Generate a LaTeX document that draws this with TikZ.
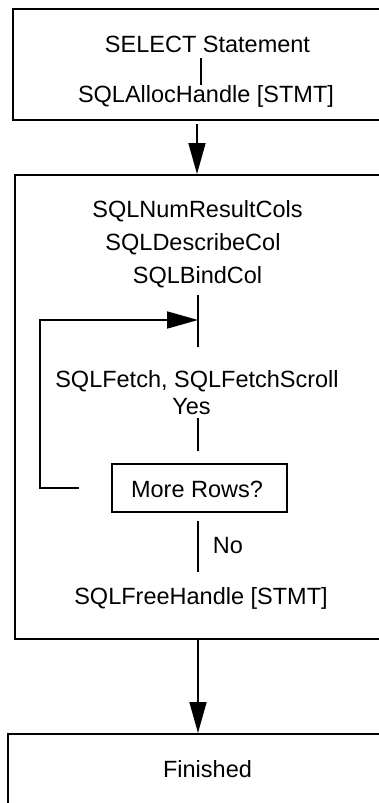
\documentclass[tikz,border=0pt]{standalone}
\usepackage{fontspec}
\setmainfont{Liberation Sans}
\usetikzlibrary{arrows.meta}
\begin{document}
\begin{tikzpicture}[x=1pt,y=-1pt,line width=1.7pt,
  lbl/.style={font=\fontsize{23.5}{28}\selectfont,anchor=base,inner sep=0pt},
  frame/.style={draw,line width=2pt,anchor=north west,inner sep=0pt},
  arr/.style={-{Triangle[length=31pt,width=17pt]},line width=1.7pt}]
\path[use as bounding box,clip] (0,0) rectangle (379,803);
\fill[white] (0,0) rectangle (379,803);
% frames
\node[frame,minimum width=420pt,minimum height=111pt] (box1) at (12,8) {};
\node[frame,minimum width=420pt,minimum height=464pt] (box2) at (14,174) {};
\node[frame,minimum width=420pt,minimum height=120pt] (box3) at (7,733) {};
% texts
\node[lbl] (sel) at (207.5,52) {SELECT Statement};
\node[lbl] (alloc) at (206,102) {SQLAllocHandle [STMT]};
\node[lbl] (num) at (197.5,217) {SQLNumResultCols};
\node[lbl] (desc) at (193,250) {SQLDescribeCol};
\node[lbl] (bind) at (197.5,283) {SQLBindCol};
\node[lbl] (fetch) at (197,387) {SQLFetch, SQLFetchScroll};
\node[lbl] (yes) at (191.5,414) {Yes};
\node[draw,line width=1.7pt,minimum width=175pt,minimum height=48pt,inner sep=0pt] (more) at (199.5,488) {};
\node[lbl] (moretxt) at (197,497) {More Rows?};
\node[lbl] (no) at (228,553) {No};
\node[lbl] (free) at (201,604) {SQLFreeHandle [STMT]};
\node[lbl] (fin) at (207.5,777) {Finished};
% coordinates
\coordinate (a1) at (201,58);
\coordinate (a2) at (201,85);
\coordinate (b1) at (197,124);
\coordinate (b2) at (197,174);
\coordinate (c1) at (198,295);
\coordinate (c2) at (198,347);
\coordinate (join) at (198,320);
\coordinate (lc2) at (40,320);
\coordinate (lc1) at (40,488);
\coordinate (stub) at (79,488);
\coordinate (d1) at (198,418);
\coordinate (d2) at (198,451);
\coordinate (e1) at (198,521);
\coordinate (e2) at (198,572);
\coordinate (f1) at (198,638);
\coordinate (f2) at (198,733);
% connectors
\draw (a1) -- (a2);
\draw[arr] (b1) -- (b2);
\draw (c1) -- (c2);
\draw[arr] (stub) -- (lc1) -- (lc2) -- (join);
\draw (d1) -- (d2);
\draw (e1) -- (e2);
\draw[arr] (f1) -- (f2);
\end{tikzpicture}
\end{document}
